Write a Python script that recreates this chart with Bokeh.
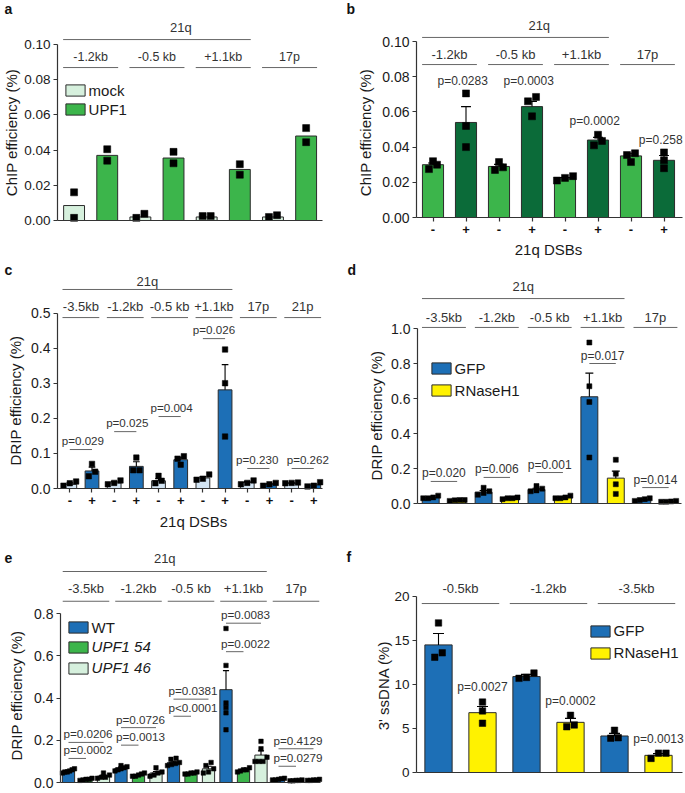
import numpy as np
from bokeh.plotting import figure
from bokeh.layouts import row, column
from bokeh.models import Range1d, FixedTicker, PrintfTickFormatter, Legend, LegendItem
from bokeh.core.properties import value
from bokeh.embed import file_html
from bokeh.resources import INLINE

# ---------------------------------------------------------------- data
# panel a : ChIP efficiency, mock vs UPF1
a_groups = ["-1.2kb", "-0.5 kb", "+1.1kb", "17p"]
a_mock = [0.0085, 0.002, 0.002, 0.002]
a_upf1 = [0.037, 0.0355, 0.029, 0.048]
a_mock_pts = [[0.016, 0.0015], [0.0015, 0.0038], [0.0025, 0.0025], [0.002, 0.003]]
a_upf1_pts = [[0.0405, 0.034], [0.039, 0.0325], [0.032, 0.026], [0.0525, 0.0445]]

# panel b : ChIP efficiency, -/+ 21q DSBs
b_groups = ["-1.2kb", "-0.5 kb", "+1.1kb", "17p"]
b_minus = [0.030, 0.029, 0.022, 0.035]
b_plus = [0.054, 0.063, 0.044, 0.0325]
b_minus_sem = [0.001, 0.0012, 0.0007, 0.0015]
b_plus_sem = [0.009, 0.003, 0.0015, 0.0027]
b_minus_pts = [[0.032, 0.0275, 0.030], [0.0315, 0.027, 0.0285], [0.021, 0.0235, 0.0225], [0.0365, 0.0315, 0.0355]]
b_plus_pts = [[0.0705, 0.052, 0.040], [0.0685, 0.066, 0.0575], [0.041, 0.047, 0.0435], [0.037, 0.0325, 0.028]]
b_pvals = ["p=0.0283", "p=0.0003", "p=0.0002", "p=0.258"]

# panel c : DRIP efficiency, -/+ 21q DSBs
c_groups = ["-3.5kb", "-1.2kb", "-0.5 kb", "+1.1kb", "17p", "21p"]
c_minus = [0.012, 0.016, 0.022, 0.030, 0.017, 0.015]
c_plus = [0.050, 0.063, 0.082, 0.281, 0.012, 0.010]
c_minus_sem = [0.004, 0.004, 0.006, 0.004, 0.003, 0.001]
c_plus_sem = [0.011, 0.013, 0.007, 0.072, 0.002, 0.003]
c_minus_pts = [[0.020, 0.008, 0.015], [0.023, 0.012, 0.016], [0.036, 0.015, 0.022],
               [0.040, 0.025, 0.028], [0.023, 0.012, 0.016], [0.015, 0.016, 0.017]]
c_plus_pts = [[0.070, 0.048, 0.035], [0.088, 0.052, 0.052], [0.092, 0.085, 0.068],
              [0.396, 0.300, 0.148], [0.016, 0.008, 0.012], [0.018, 0.006, 0.008]]
c_pvals = ["p=0.029", "p=0.025", "p=0.004", "p=0.026", "p=0.230", "p=0.262"]

# panel d : DRIP efficiency, GFP vs RNaseH1
d_groups = ["-3.5kb", "-1.2kb", "-0.5 kb", "+1.1kb", "17p"]
d_gfp = [0.035, 0.065, 0.080, 0.610, 0.022]
d_rnh = [0.018, 0.030, 0.035, 0.145, 0.012]
d_gfp_sem = [0.004, 0.009, 0.007, 0.135, 0.003]
d_rnh_sem = [0.002, 0.003, 0.004, 0.040, 0.001]
d_gfp_pts = [[0.045, 0.030, 0.030, 0.035], [0.090, 0.060, 0.070, 0.050], [0.100, 0.085, 0.070, 0.075],
             [0.92, 0.67, 0.58, 0.263], [0.030, 0.020, 0.025, 0.015]]
d_rnh_pts = [[0.015, 0.020, 0.020, 0.018], [0.035, 0.025, 0.030, 0.030], [0.045, 0.030, 0.035, 0.030],
             [0.25, 0.17, 0.11, 0.055], [0.015, 0.010, 0.010, 0.012]]
d_pvals = ["p=0.020", "p=0.006", "p=0.001", "p=0.017", "p=0.014"]

# panel e : DRIP efficiency, WT vs UPF1 clones
e_groups = ["-3.5kb", "-1.2kb", "-0.5 kb", "+1.1kb", "17p"]
e_wt = [0.055, 0.068, 0.095, 0.44, 0.015]
e_u54 = [0.015, 0.035, 0.045, 0.058, 0.010]
e_u46 = [0.030, 0.045, 0.065, 0.13, 0.012]
e_wt_sem = [0.004, 0.004, 0.006, 0.09, 0.002]
e_u54_sem = [0.002, 0.003, 0.002, 0.004, 0.001]
e_u46_sem = [0.005, 0.007, 0.012, 0.02, 0.001]
e_wt_pts = [[0.065, 0.06, 0.055, 0.05, 0.045, 0.05], [0.08, 0.075, 0.07, 0.065, 0.06, 0.055],
            [0.115, 0.11, 0.095, 0.09, 0.085, 0.08], [0.73, 0.555, 0.377, 0.355, 0.33, 0.25],
            [0.02, 0.018, 0.015, 0.012, 0.012]]
e_u54_pts = [[0.02, 0.015, 0.012, 0.015, 0.01], [0.045, 0.04, 0.035, 0.03, 0.03],
             [0.05, 0.045, 0.045, 0.04, 0.04], [0.07, 0.06, 0.05, 0.055, 0.06],
             [0.012, 0.01, 0.01, 0.008, 0.008]]
e_u46_pts = [[0.045, 0.035, 0.025, 0.025, 0.02], [0.07, 0.05, 0.045, 0.035, 0.03],
             [0.095, 0.08, 0.065, 0.05, 0.045], [0.195, 0.16, 0.12, 0.10, 0.10, 0.10],
             [0.015, 0.012, 0.012, 0.01, 0.01]]
e_p_wt_u46 = ["p=0.0206", "p=0.0726", "p=0.0381", "p=0.0083", "p=0.4129"]
e_p_wt_u54 = ["p=0.0002", "p=0.0013", "p<0.0001", "p=0.0022", "p=0.0279"]

# panel f : 3' ssDNA
f_groups = ["-0.5kb", "-1.2kb", "-3.5kb"]
f_gfp = [14.5, 10.9, 4.15]
f_rnh = [6.8, 5.7, 1.95]
f_gfp_sem = [1.3, 0.25, 0.3]
f_rnh_sem = [0.7, 0.45, 0.2]
f_gfp_pts = [[17.0, 13.1, 13.6], [11.3, 10.7, 10.8], [4.8, 3.9, 3.95]]
f_rnh_pts = [[8.0, 7.0, 5.6], [6.5, 5.4, 5.2], [1.6, 2.2, 2.2]]
f_pvals = ["p=0.0027", "p=0.0002", "p=0.0013"]

# ------------------------------------------------ annotation placement (layout)
b_pval_y = [0.0778, 0.0778, 0.0551, 0.0443]
c_pline_y = [0.111, 0.162, 0.205, 0.427, 0.057, 0.057]
c_ptext_dx = [0.09, 0.09, 0.09, 0.0, -0.05, 0.23]
d_pline_y = [0.126, 0.149, 0.177, 0.80, 0.091]
e_pline_hi = [0.19, 0.26, 0.395, 0.755, 0.16]
e_pline_lo = [0.114, 0.177, 0.314, 0.62, 0.077]
f_pval_y = [9.66, 8.07, 3.86]

# ---------------------------------------------------------------- style
FONT = "Liberation Sans"
BLUE = "#1d6fb6"
LBLUE = "#d2e4f3"
GREEN = "#3cb54b"
LGREEN = "#d6f0dd"
DGREEN = "#0b6b39"
YELLOW = "#fff200"
AX = "#333333"
LINE = "#666666"
TXT = "#333333"
EDGE = "#2b2b2b"


class Panel:
    """Figure whose plotting frame fills the whole canvas; axes are pinned
    (fixed_location) at the data origin so every position is controlled."""

    def __init__(self, W, H, fl, fb, x0, ppx, ppu, xend):
        self.W, self.H, self.fl, self.fb = W, H, fl, fb
        self.x0, self.ppx, self.ppu, self.xend = x0, ppx, ppu, xend
        xr = Range1d(x0 - fl / ppx, x0 + (W - fl) / ppx)
        yr = Range1d(-(H - fb) / ppu, fb / ppu)
        p = figure(width=W, height=H, x_range=xr, y_range=yr,
                   output_backend="svg", toolbar_location=None, title=None, tools="",
                   min_border=0, min_border_left=0, min_border_right=0,
                   min_border_top=0, min_border_bottom=0)
        p.outline_line_color = None
        p.xgrid.visible = False
        p.ygrid.visible = False
        p.background_fill_color = "white"
        p.border_fill_color = "white"
        self.p = p

    def dx(self, lx):
        return self.x0 + (lx - self.fl) / self.ppx

    def dy(self, ly):
        return (self.fb - ly) / self.ppu

    def yaxis(self, ticks, fmt, tick_fs):
        ax = self.p.yaxis[0]
        ax.fixed_location = self.x0
        ax.ticker = FixedTicker(ticks=ticks)
        ax.formatter = PrintfTickFormatter(format=fmt)
        ax.bounds = (ticks[0], ticks[-1])
        ax.major_label_standoff = 3
        ax.major_label_text_font = FONT
        ax.major_label_text_font_size = tick_fs
        ax.major_label_text_color = "#1a1a1a"
        ax.major_tick_in = 0
        ax.major_tick_out = 4
        ax.minor_tick_line_color = None
        ax.axis_line_color = AX
        ax.major_tick_line_color = AX
        ax.axis_line_width = 1.2
        ax.major_tick_line_width = 1.2

    def xaxis(self, ticks=None, labels=None):
        ax = self.p.xaxis[0]
        ax.fixed_location = 0
        ax.bounds = (self.x0, self.xend)
        ax.ticker = FixedTicker(ticks=list(ticks) if ticks else [])
        ax.minor_tick_line_color = None
        ax.major_tick_in = 0
        ax.major_tick_out = 4 if ticks else 0
        ax.axis_line_color = AX
        ax.major_tick_line_color = AX
        ax.axis_line_width = 1.2
        ax.major_tick_line_width = 1.2
        if ticks:
            ax.major_label_overrides = {t: l for t, l in zip(ticks, labels)}
            ax.major_label_text_font = FONT
            ax.major_label_text_font_size = "13px"
            ax.major_label_text_font_style = "bold"
            ax.major_label_text_color = "#111111"
            ax.major_label_standoff = 3
        else:
            ax.major_label_text_font_size = "0px"

    def bars(self, xs, tops, color, width):
        return self.p.vbar(x=xs, top=tops, bottom=0, width=width, fill_color=color,
                           line_color=EDGE, line_width=1)

    def errors(self, xs, means, sems, capw):
        xs = np.asarray(xs, float)
        m = np.asarray(means, float)
        t = m + np.asarray(sems, float)
        self.p.segment(x0=xs, y0=m, x1=xs, y1=t, line_color="black", line_width=1.1)
        self.p.segment(x0=xs - capw / 2, y0=t, x1=xs + capw / 2, y1=t, line_color="black", line_width=1.1)

    def spread(self, vals, center, size, maxw):
        vals = np.asarray(vals, float)
        order = np.argsort(vals)
        clusters, cur = [], [order[0]]
        for b in order[1:]:
            if (vals[b] - vals[cur[0]]) * self.ppu < size:
                cur.append(b)
            else:
                clusters.append(cur)
                cur = [b]
        clusters.append(cur)
        xs = np.zeros(len(vals))
        for cl in clusters:
            k = len(cl)
            step = min(size * 1.15, maxw / max(k - 1, 1))
            for j, idx in enumerate(cl):
                xs[idx] = center + (j - (k - 1) / 2) * step / self.ppx
        return xs

    def points(self, centers, pts, size, maxw):
        X, Y = [], []
        for c, v in zip(centers, pts):
            X += list(self.spread(v, c, size, maxw))
            Y += list(v)
        self.p.scatter(x=X, y=Y, marker="square", size=size, fill_color="black",
                       line_color="black", line_width=0.5)

    def text(self, x, y, s, fs, dy=0, align="center", xoff=0, color=TXT, angle=0.0,
             style="normal"):
        self.p.text(x=[x], y=[y], text=[s], y_offset=-dy, x_offset=xoff, text_align=align,
                    text_baseline="middle", text_font=value(FONT), text_font_size=fs,
                    text_color=color, angle=angle, text_font_style=style)

    def hline(self, x0, x1, y, color=LINE):
        self.p.segment(x0=[x0], y0=[y], x1=[x1], y1=[y], line_color=color, line_width=1)

    def bracket(self, i0, i1, y, s, dy, fs, xt=None, ext=0.33):
        self.hline(i0 - ext, i1 + ext, y)
        self.text((i0 + i1) / 2 if xt is None else xt, y, s, fs, dy=dy)

    def ylabel(self, s, lx, ly, fs="15px"):
        self.text(self.dx(lx), self.dy(ly), s, fs, angle=np.pi / 2, color="#1a1a1a")

    def xlabel(self, s, lx, ly, fs="15px"):
        self.text(self.dx(lx), self.dy(ly), s, fs, color="#1a1a1a")

    def letter(self, s, lx, ly):
        self.text(self.dx(lx), self.dy(ly), s, "14px", align="left", color="#111111",
                  style="bold")

    def legend(self, items, box_left, first_center, pitch, fs, italic=False, gw=24, gh=14, Hh=17):
        leg = Legend(items=[LegendItem(label=l, renderers=[r]) for l, r in items])
        vy = (self.H - first_center) - (len(items) - 1) * pitch - Hh / 2
        leg.location = (box_left - 0.1 * gw, vy)
        leg.orientation = "vertical"
        leg.padding = 0
        leg.margin = 0
        leg.spacing = int(round(pitch - Hh))
        leg.glyph_width = gw
        leg.glyph_height = gh
        leg.label_height = gh
        leg.label_standoff = 2
        leg.border_line_color = None
        leg.background_fill_alpha = 0
        leg.label_text_font = FONT
        leg.label_text_font_size = fs
        leg.label_text_font_style = "italic" if italic else "normal"
        leg.label_text_color = "#1a1a1a"
        self.p.add_layout(leg)


# ---------------------------------------------------------------- panel a
pa = Panel(340, 258, fl=57, fb=220, x0=-0.5, ppx=33.15, ppu=1760, xend=7.5)
xa_m = [2 * i for i in range(len(a_groups))]
xa_u = [2 * i + 1 for i in range(len(a_groups))]
ra_m = pa.bars(xa_m, a_mock, LGREEN, 0.63)
ra_u = pa.bars(xa_u, a_upf1, GREEN, 0.63)
pa.points(xa_m, a_mock_pts, 7, 18)
pa.points(xa_u, a_upf1_pts, 7, 18)
pa.yaxis([0, 0.02, 0.04, 0.06, 0.08, 0.10], "%.2f", "13.5px")
pa.xaxis()
pa.ylabel("ChIP efficiency (%)", 11, 132)
for i, g in enumerate(a_groups):
    pa.bracket(2 * i, 2 * i + 1, 0.0869, g, 11, "12.5px")
pa.bracket(0, 5, 0.1028, "21q", 12, "13px", xt=2.5 + 0.72)
pa.legend([("mock", ra_m), ("UPF1", ra_u)], 65, 89.5, 19.5, "15px")
pa.letter("a", 4, 8)

# ---------------------------------------------------------------- panel b
pb = Panel(345, 258, fl=76, fb=217, x0=-0.5, ppx=33, ppu=1760, xend=7.56)
xb_m = [2 * i for i in range(len(b_groups))]
xb_p = [2 * i + 1 for i in range(len(b_groups))]
pb.bars(xb_m, b_minus, GREEN, 0.64)
pb.bars(xb_p, b_plus, DGREEN, 0.64)
pb.errors(xb_m, b_minus, b_minus_sem, 0.3)
pb.errors(xb_p, b_plus, b_plus_sem, 0.3)
pb.points(xb_m, b_minus_pts, 7, 18)
pb.points(xb_p, b_plus_pts, 7, 18)
pb.yaxis([0, 0.02, 0.04, 0.06, 0.08, 0.10], "%.2f", "14px")
pb.xaxis(ticks=list(range(8)), labels=["-", "+"] * 4)
pb.ylabel("ChIP efficiency (%)", 25, 132)
pb.xlabel("21q DSBs", 208, 248.5)
for i, g in enumerate(b_groups):
    pb.bracket(2 * i, 2 * i + 1, 0.0869, g, 10, "13px")
pb.bracket(0, 5, 0.1023, "21q", 12, "13px", xt=2.5 + 0.72)
for i, s in enumerate(b_pvals):
    pb.text(xb_p[i] - 0.1, b_pval_y[i], s, "12px")
pb.letter("b", 6, 8)

# ---------------------------------------------------------------- panel c
pc = Panel(340, 272, fl=57, fb=230, x0=-0.555, ppx=22.18, ppu=351, xend=11.39)
xc_m = [2 * i for i in range(len(c_groups))]
xc_p = [2 * i + 1 for i in range(len(c_groups))]
pc.bars(xc_m, c_minus, LBLUE, 0.62)
pc.bars(xc_p, c_plus, BLUE, 0.62)
pc.errors(xc_m, c_minus, c_minus_sem, 0.3)
pc.errors(xc_p, c_plus, c_plus_sem, 0.3)
pc.points(xc_m, c_minus_pts, 5.5, 13)
pc.points(xc_p, c_plus_pts, 5.5, 13)
pc.yaxis([0, 0.1, 0.2, 0.3, 0.4, 0.5], "%.1f", "14px")
pc.xaxis(ticks=list(range(12)), labels=["-", "+"] * 6)
pc.ylabel("DRIP efficiency (%)", 15, 142)
pc.xlabel("21q DSBs", 193, 262.5)
for i, g in enumerate(c_groups):
    pc.bracket(2 * i, 2 * i + 1, 0.487, g, 11, "13px")
pc.bracket(0, 7, 0.567, "21q", 8, "13px")
for i, s in enumerate(c_pvals):
    pc.hline(xc_m[i], xc_p[i], c_pline_y[i])
    pc.text((xc_m[i] + xc_p[i]) / 2 + c_ptext_dx[i], c_pline_y[i], s, "11.6px", dy=9)
pc.letter("c", 4, 11.5)

# ---------------------------------------------------------------- panel d
pd_ = Panel(345, 272, fl=77, fb=245, x0=-0.5, ppx=26.44, ppu=175, xend=9.47)
xd_g = [2 * i for i in range(len(d_groups))]
xd_r = [2 * i + 1 for i in range(len(d_groups))]
rd_g = pd_.bars(xd_g, d_gfp, BLUE, 0.64)
rd_r = pd_.bars(xd_r, d_rnh, YELLOW, 0.64)
pd_.errors(xd_g, d_gfp, d_gfp_sem, 0.3)
pd_.errors(xd_r, d_rnh, d_rnh_sem, 0.3)
pd_.points(xd_g, d_gfp_pts, 5, 15)
pd_.points(xd_r, d_rnh_pts, 5, 15)
pd_.yaxis([0, 0.2, 0.4, 0.6, 0.8, 1.0], "%.1f", "14px")
pd_.xaxis()
pd_.ylabel("DRIP efficiency (%)", 36, 157)
for i, g in enumerate(d_groups):
    pd_.bracket(2 * i, 2 * i + 1, 1.006, g, 10, "13px")
pd_.bracket(0, 7, 1.171, "21q", 12, "13px")
for i, s in enumerate(d_pvals):
    pd_.hline(xd_g[i], xd_r[i], d_pline_y[i])
    pd_.text((xd_g[i] + xd_r[i]) / 2, d_pline_y[i], s, "12px", dy=8)
pd_.legend([("GFP", rd_g), ("RNaseH1", rd_r)], 91, 110, 22, "15px")
pd_.letter("d", 7, 11)

# ---------------------------------------------------------------- panel e
pe = Panel(340, 262, fl=60, fb=252, x0=-0.457, ppx=17.5, ppu=211, xend=14.4)
xe_w = [3 * i for i in range(len(e_groups))]
xe_5 = [3 * i + 1 for i in range(len(e_groups))]
xe_6 = [3 * i + 2 for i in range(len(e_groups))]
re_w = pe.bars(xe_w, e_wt, BLUE, 0.7)
re_5 = pe.bars(xe_5, e_u54, GREEN, 0.7)
re_6 = pe.bars(xe_6, e_u46, LGREEN, 0.7)
pe.errors(xe_w, e_wt, e_wt_sem, 0.35)
pe.errors(xe_5, e_u54, e_u54_sem, 0.35)
pe.errors(xe_6, e_u46, e_u46_sem, 0.35)
pe.points(xe_w, e_wt_pts, 4.5, 12)
pe.points(xe_5, e_u54_pts, 4.5, 12)
pe.points(xe_6, e_u46_pts, 4.5, 12)
pe.yaxis([0, 0.2, 0.4, 0.6, 0.8], "%.1f", "14px")
pe.xaxis()
pe.ylabel("DRIP efficiency (%)", 16, 165)
for i, g in enumerate(e_groups):
    pe.bracket(3 * i, 3 * i + 2, 0.859, g, 13, "13px")
pe.bracket(0, 11, 1.0, "21q", 13, "13px")
for i in range(len(e_groups)):
    pe.hline(xe_w[i], xe_6[i], e_pline_hi[i])
    pe.text(xe_w[i], e_pline_hi[i], e_p_wt_u46[i], "11.7px", dy=8.5, align="left", xoff=-5)
    pe.hline(xe_w[i], xe_5[i], e_pline_lo[i])
    pe.text(xe_w[i], e_pline_lo[i], e_p_wt_u54[i], "11.7px", dy=8.5, align="left", xoff=-5)
pe.legend([("WT", re_w)], 68, 97, 20.7, "15px")
pe.legend([("UPF1 54", re_5), ("UPF1 46", re_6)], 68, 117, 20.7, "15px", italic=True)
pe.letter("e", 4, 27)

# ---------------------------------------------------------------- panel f
pf = Panel(345, 262, fl=76, fb=242, x0=-0.5, ppx=44, ppu=8.8, xend=5.54)
xf_g = [2 * i for i in range(len(f_groups))]
xf_r = [2 * i + 1 for i in range(len(f_groups))]
rf_g = pf.bars(xf_g, f_gfp, BLUE, 0.62)
rf_r = pf.bars(xf_r, f_rnh, YELLOW, 0.62)
pf.errors(xf_g, f_gfp, f_gfp_sem, 0.25)
pf.errors(xf_r, f_rnh, f_rnh_sem, 0.25)
pf.points(xf_g, f_gfp_pts, 6.5, 24)
pf.points(xf_r, f_rnh_pts, 6.5, 24)
pf.yaxis([0, 5, 10, 15, 20], "%d", "13.5px")
pf.xaxis()
pf.ylabel("3' ssDNA (%)", 43, 155)
for i, g in enumerate(f_groups):
    pf.bracket(2 * i, 2 * i + 1, 19.2, g, 15, "13px", ext=0.38)
for i, s in enumerate(f_pvals):
    pf.text(xf_r[i], f_pval_y[i], s, "12px")
pf.legend([("GFP", rf_g), ("RNaseH1", rf_r)], 250, 100.5, 22, "15px")
pf.letter("f", 6, 26.5)

layout = column(row(pa.p, pb.p), row(pc.p, pd_.p), row(pe.p, pf.p))
open("out.html", "w").write(file_html(layout, INLINE))
